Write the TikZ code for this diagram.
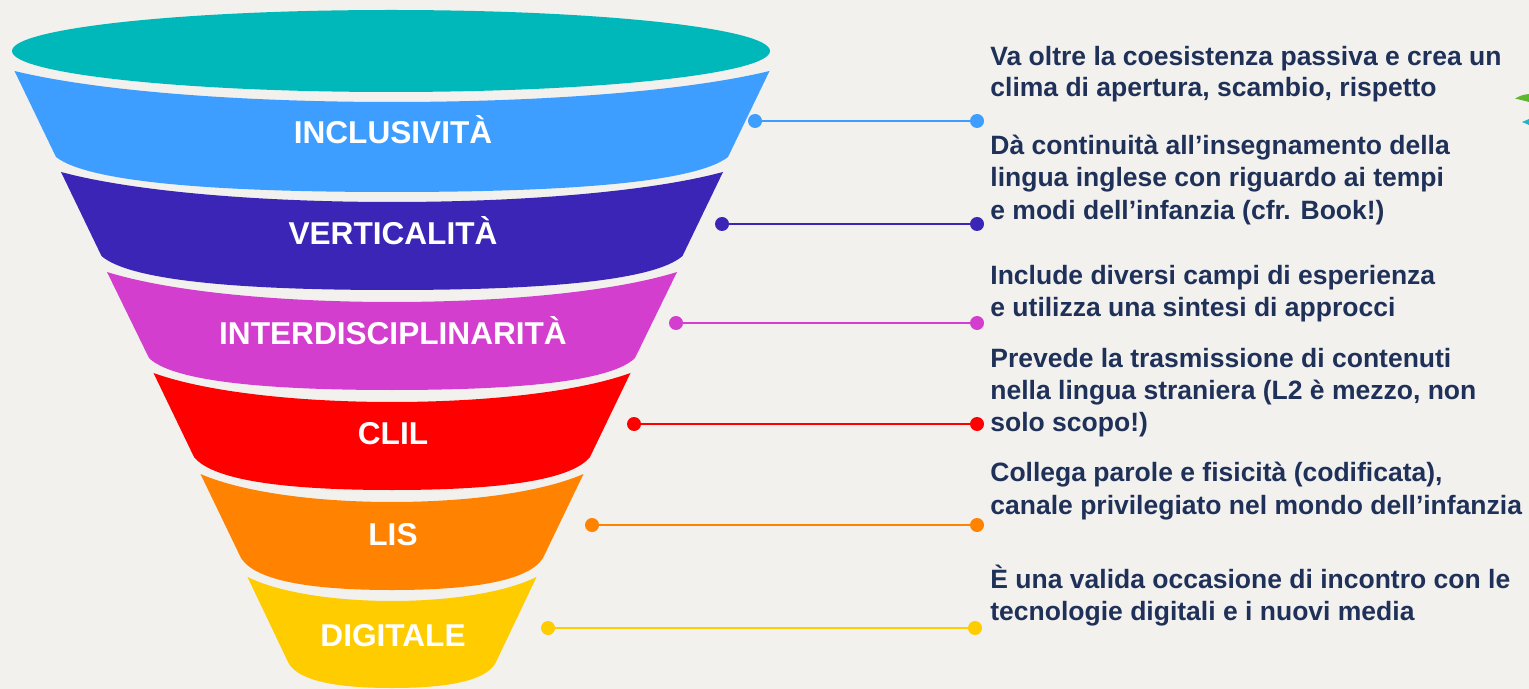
\documentclass[tikz,border=0pt]{standalone}
\usepackage{fontspec}
\setmainfont{Liberation Sans}
\definecolor{bgc}{HTML}{F2F1EE}
\definecolor{teal1}{HTML}{00B8BA}
\definecolor{cBlue}{HTML}{3D9EFF}
\definecolor{cIndigo}{HTML}{3A25B7}
\definecolor{cMag}{HTML}{D43ECF}
\definecolor{cRed}{HTML}{FF0000}
\definecolor{cOrange}{HTML}{FF8200}
\definecolor{cYellow}{HTML}{FFCC00}
\definecolor{navy}{HTML}{1F3158}
\definecolor{leafG}{HTML}{5DB82E}
\definecolor{leafC}{HTML}{21B5C8}
\newcommand\funnelband[7]{%
  \fill[#1] ({392-#3},#2) .. controls ({392-0.55*#3},{#2+1.333*#4}) and ({392+0.55*#3},{#2+1.333*#4}) .. ({392+#3},#2)
    -- ({392+#6},#5) .. controls ({392+0.9*#6},{#5+0.75*#7}) and ({392+0.5*#6},{#5+#7}) .. (392,{#5+#7})
    .. controls ({392-0.5*#6},{#5+#7}) and ({392-0.9*#6},{#5+0.75*#7}) .. ({392-#6},#5) -- cycle;}
\tikzset{
  lbl/.style={text=white,font=\fontsize{15.8}{19}\selectfont\bfseries,anchor=base,inner sep=0pt},
  desc/.style={text=navy,font=\fontsize{13.25}{16}\selectfont\bfseries,anchor=base west,inner sep=0pt},
  dot/.style={circle,fill=#1,minimum size=7pt,inner sep=0pt},
  conn/.style={draw=#1,line width=1.4pt}
}
\begin{document}
\begin{tikzpicture}[x=0.5pt,y=-0.5pt]
\fill[bgc] (0,0) rectangle (1529,689);
\useasboundingbox (0,0) rectangle (1529,689);
% top ellipse
\fill[teal1] (391,51) ellipse [x radius=379, y radius=41];
% bands
\funnelband{cBlue}{71}{377.5}{31}{157}{336}{35}
\funnelband{cIndigo}{172}{331}{30}{256}{290.5}{34}
\funnelband{cMag}{272}{285}{30}{358}{243}{32}
\funnelband{cRed}{373}{238.5}{29}{457}{198}{33}
\funnelband{cOrange}{474}{191.5}{28}{558}{151}{32}
\funnelband{cYellow}{577}{144.5}{24}{663}{103.5}{25}
% labels
\node[lbl] (l1) at (393,144) {INCLUSIVITÀ};
\node[lbl] (l2) at (393,245) {VERTICALITÀ};
\node[lbl] (l3) at (393,344) {INTERDISCIPLINARITÀ};
\node[lbl] (l4) at (393,444) {CLIL};
\node[lbl] (l5) at (393,545) {LIS};
\node[lbl] (l6) at (393,646) {DIGITALE};
% connectors
\node[dot=cBlue] (d1l) at (755,121) {};
\node[dot=cBlue] (d1r) at (977,121) {};
\node[dot=cIndigo] (d2l) at (722,224) {};
\node[dot=cIndigo] (d2r) at (977,224) {};
\node[dot=cMag] (d3l) at (676,323) {};
\node[dot=cMag] (d3r) at (977,323) {};
\node[dot=cRed] (d4l) at (634,424) {};
\node[dot=cRed] (d4r) at (977,424) {};
\node[dot=cOrange] (d5l) at (592,525) {};
\node[dot=cOrange] (d5r) at (977,525) {};
\node[dot=cYellow] (d6l) at (548,628) {};
\node[dot=cYellow] (d6r) at (975,628) {};
\draw[conn=cBlue] (d1l) -- (d1r);
\draw[conn=cIndigo] (d2l) -- (d2r);
\draw[conn=cMag] (d3l) -- (d3r);
\draw[conn=cRed] (d4l) -- (d4r);
\draw[conn=cOrange] (d5l) -- (d5r);
\draw[conn=cYellow] (d6l) -- (d6r);
% descriptions
\node[desc] (t1a) at (990,66) {Va oltre la coesistenza passiva e crea un};
\node[desc] (t1b) at (990,97) {clima di apertura, scambio, rispetto};
\node[desc] (t2a) at (990,155) {Dà continuità all’insegnamento della};
\node[desc] (t2b) at (990,187) {lingua inglese con riguardo ai tempi};
\node[desc] (t2c) at (990,220) {e modi dell’infanzia (cfr. Book!)};
\node[desc] (t3a) at (990,285) {Include diversi campi di esperienza};
\node[desc] (t3b) at (990,316) {e utilizza una sintesi di approcci};
\node[desc] (t4a) at (990,367) {Prevede la trasmissione di contenuti};
\node[desc] (t4b) at (990,399) {nella lingua straniera (L2 è mezzo, non};
\node[desc] (t4c) at (990,431) {solo scopo!)};
\node[desc] (t5a) at (990,481) {Collega parole e fisicità (codificata),};
\node[desc] (t5b) at (990,514) {canale privilegiato nel mondo dell’infanzia};
\node[desc] (t6a) at (990,588) {È una valida occasione di incontro con le};
\node[desc] (t6b) at (990,620) {tecnologie digitali e i nuovi media};
% leaf fragments at right edge
\fill[leafG] (1529,94) .. controls (1522,95) .. (1515,98.5) .. controls (1522,101) .. (1529,102) -- cycle;
\fill[leafC] (1529,119) .. controls (1526,120) .. (1522,122) .. controls (1526,124) .. (1529,125) -- cycle;
\end{tikzpicture}
\end{document}
